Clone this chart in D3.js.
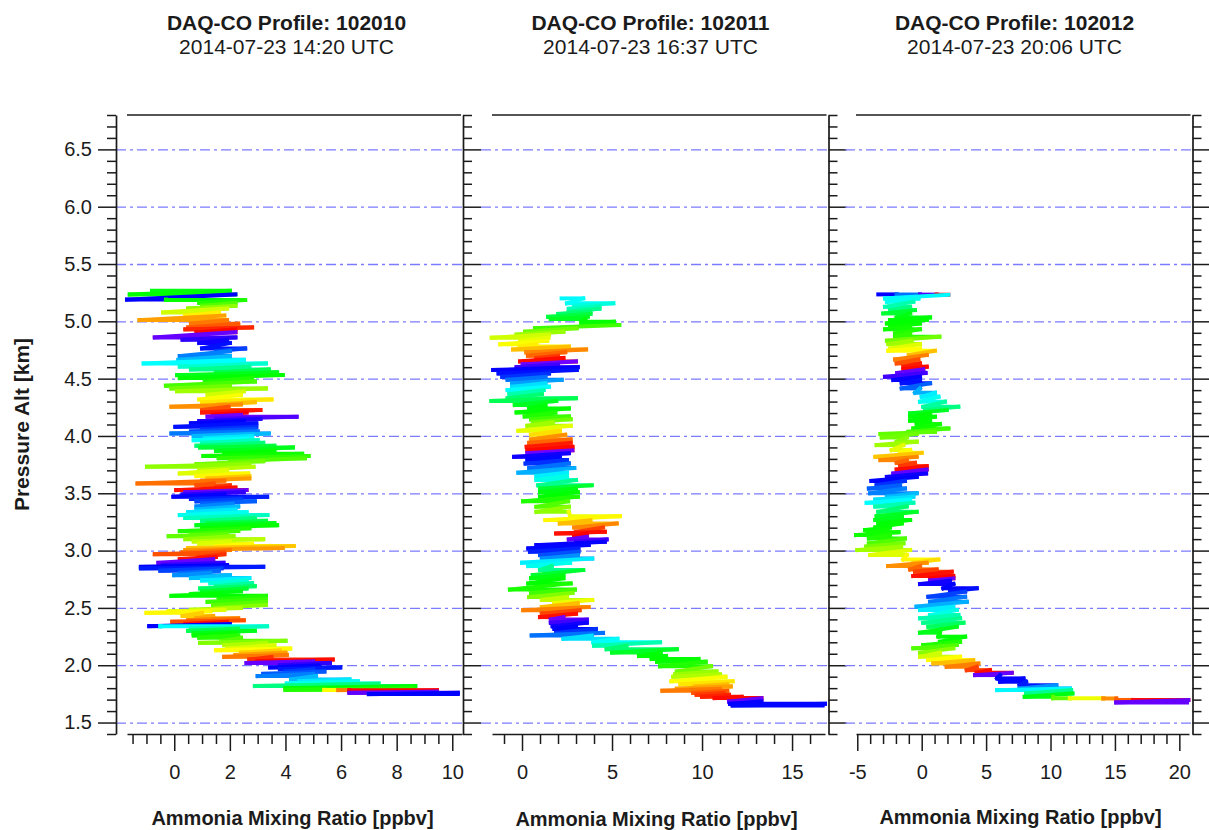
<!DOCTYPE html>
<html>
<head>
<meta charset="utf-8">
<script src="https://cdn.jsdelivr.net/npm/d3@7"></script>
<style>
  html, body { margin: 0; padding: 0; background: #fff; }
  svg { display: block; font-family: "Liberation Sans", Arial, Helvetica, sans-serif; }
</style>
</head>
<body>
<svg id="chart" width="1209" height="830"></svg>
<script>
// Spiral profiles: each row is one swing of the trace
// [pressure altitude km, low NH3 ppbv, high NH3 ppbv, aircraft heading deg]
const profile102010 = [
  [5.267,-0.8,2.0,165],[5.235,-1.6,2.2,160],[5.19,-1.7,-0.3,320],[5.186,-0.3,2.55,158],
  [5.16,0.9,2.2,150],[5.135,1.0,2.2,135],[5.113,0.5,1.9,115],[5.078,-0.4,1.6,95],
  [5.05,0.4,1.8,75],[5.011,-1.25,1.9,50],[4.98,0.6,2.3,38],[4.947,0.5,2.8,28],
  [4.93,0.4,2.2,12],[4.905,0.8,2.2,2],[4.86,-0.7,2.2,352],[4.84,0.3,1.9,335],
  [4.81,0.9,2.0,325],[4.764,1.0,2.55,315],[4.74,1.5,2.0,300],[4.697,0.2,2.0,280],
  [4.665,0.15,2.5,262],[4.633,-1.1,3.3,240],[4.605,0.2,2.7,225],[4.58,0.6,3.4,205],
  [4.555,1.5,3.7,185],[4.531,0.1,3.9,168],[4.505,0.2,2.8,160],[4.475,1.1,2.9,150],
  [4.438,-0.3,2.0,138],[4.415,-0.1,3.3,125],[4.39,0.1,2.5,110],[4.36,1.2,2.4,95],
  [4.319,0.9,3.5,82],[4.295,1.0,2.9,72],[4.275,1.6,2.4,60],[4.255,-0.1,1.95,45],
  [4.226,1.0,3.1,25],[4.205,1.0,2.6,8],[4.185,1.4,2.4,0],[4.168,1.2,4.4,355],
  [4.15,1.5,3.1,345],[4.13,0.9,2.5,330],[4.11,0.6,2.95,320],[4.08,0.04,2.95,315],
  [4.06,1.0,2.9,305],[4.04,0.6,3.0,295],[4.022,-0.1,3.4,282],[4.0,0.7,2.8,262],
  [3.98,1.1,2.8,248],[3.963,0.7,3.0,238],[3.94,1.0,3.2,218],[3.915,0.8,3.6,198],
  [3.9,0.93,4.27,178],[3.87,1.5,3.6,168],[3.845,1.8,4.6,160],[3.825,1.05,4.83,155],
  [3.805,1.6,4.7,145],[3.78,2.0,3.2,135],[3.755,0.8,2.7,125],[3.731,-0.98,2.85,115],
  [3.705,0.9,1.9,103],[3.673,0.2,2.66,90],[3.65,0.8,2.7,78],[3.63,1.2,2.7,62],
  [3.61,1.0,1.8,48],[3.586,-1.32,1.42,35],[3.57,0.8,2.0,25],[3.55,1.5,2.2,15],
  [3.528,0.07,2.6,5],[3.51,0.4,2.5,352],[3.49,0.3,1.8,335],[3.47,-0.03,3.34,322],
  [3.45,0.6,2.4,310],[3.43,0.8,2.9,300],[3.41,1.0,2.1,290],[3.385,0.8,2.3,278],
  [3.36,0.8,2.2,262],[3.335,0.5,2.6,248],[3.31,0.2,3.35,235],[3.285,0.4,2.9,220],
  [3.26,1.0,3.3,200],[3.24,1.2,3.6,182],[3.222,0.8,3.7,168],[3.195,1.0,2.7,158],
  [3.17,0.2,2.3,150],[3.145,0.6,1.9,140],[3.126,-0.2,2.13,130],[3.1,0.4,3.2,115],
  [3.08,0.7,2.0,102],[3.06,0.9,2.8,92],[3.039,1.5,4.3,78],[3.022,0.5,3.9,62],
  [3.005,0.4,2.0,48],[2.985,0.3,1.8,36],[2.969,-0.7,1.8,25],[2.945,0.9,1.5,15],
  [2.925,0.2,1.4,5],[2.893,-0.57,1.77,352],[2.875,-0.4,1.9,335],[2.858,-1.2,3.2,320],
  [2.845,-1.2,1.7,312],[2.825,-0.5,1.6,300],[2.805,0.2,1.3,288],[2.785,0.0,2.0,275],
  [2.76,0.6,2.7,260],[2.74,1.0,2.6,245],[2.715,1.3,2.8,228],[2.69,1.5,2.9,210],
  [2.67,0.93,2.6,192],[2.645,1.0,2.4,175],[2.622,0.6,1.6,165],[2.605,-0.1,3.3,160],
  [2.575,1.6,3.3,150],[2.553,1.2,3.3,142],[2.525,1.4,3.3,132],[2.5,1.5,2.4,118],
  [2.485,0.6,1.8,105],[2.47,-0.2,1.3,90],[2.457,-1.0,1.0,78],[2.43,0.3,1.4,65],
  [2.41,0.8,2.3,52],[2.392,0.5,2.5,38],[2.379,-0.07,1.9,25],[2.36,0.4,2.0,5],
  [2.341,-0.9,-0.5,320],[2.339,-0.5,3.34,240],[2.32,0.6,2.3,220],[2.3,0.5,2.9,185],
  [2.28,0.7,2.2,168],[2.26,0.7,2.3,158],[2.24,0.9,2.4,148],[2.213,1.7,4.0,135],
  [2.195,0.93,3.3,120],[2.175,1.8,3.6,105],[2.146,1.9,4.17,92],[2.13,1.5,3.8,80],
  [2.11,2.4,4.0,65],[2.09,2.2,4.05,50],[2.073,1.8,3.5,38],[2.05,2.7,5.7,15],
  [2.035,3.0,5.0,3],[2.02,2.6,5.6,352],[2.0,3.8,5.2,335],[1.981,3.45,5.97,322],
  [1.965,3.8,5.0,312],[1.945,4.0,5.4,302],[1.925,3.2,5.0,292],[1.905,3.0,5.1,280],
  [1.876,4.2,6.3,262],[1.86,4.5,6.6,248],[1.841,4.05,7.35,235],[1.818,2.9,8.67,200],
  [1.8,4.0,8.6,162],[1.785,4.0,5.4,150],[1.784,5.4,5.9,80],[1.783,5.9,6.3,40],
  [1.782,6.3,9.45,3],[1.77,6.3,9.45,0],[1.759,6.3,10.2,350],[1.748,7.0,10.2,320]
];

const profile102011 = [
  [5.2,2.2,3.4,242],[5.157,2.5,5.07,238],[5.135,2.9,4.3,230],[5.11,2.6,4.3,220],
  [5.085,2.6,3.8,205],[5.065,2.0,3.8,195],[5.04,1.45,3.65,180],[5.02,1.6,3.5,170],
  [4.996,3.3,5.1,162],[4.967,3.3,5.4,158],[4.94,0.72,3.04,140],[4.91,0.17,2.3,125],
  [4.885,-0.3,1.5,112],[4.857,-1.68,1.46,95],[4.83,-0.1,1.4,88],[4.8,-1.2,0.8,82],
  [4.78,-0.13,2.6,75],[4.755,-0.5,3.56,60],[4.73,0.24,2.4,42],[4.7,0.33,2.0,32],
  [4.68,0.8,2.3,18],[4.65,-0.1,3.0,3],[4.625,0.04,2.0,355],[4.6,-0.3,3.1,340],
  [4.575,-1.6,3.04,322],[4.545,-1.3,1.5,315],[4.515,-1.1,1.3,305],[4.49,-0.8,2.2,285],
  [4.46,-0.55,1.3,270],[4.43,-0.55,1.5,250],[4.4,-0.8,1.2,238],[4.365,-0.7,1.1,215],
  [4.33,-0.8,3.0,195],[4.305,-1.7,1.9,185],[4.27,-0.4,1.3,170],[4.24,0.4,2.6,162],
  [4.205,-0.3,1.85,158],[4.17,0.15,2.6,150],[4.145,0.5,2.7,140],[4.12,0.6,1.7,125],
  [4.09,0.3,2.7,110],[4.045,-0.2,2.1,88],[4.01,0.5,2.4,70],[3.97,0.5,2.7,45],
  [3.94,0.4,2.7,32],[3.905,0.26,2.8,8],[3.875,0.3,2.8,2],[3.85,0.3,2.6,355],
  [3.818,-0.44,2.1,325],[3.79,0.3,2.5,318],[3.76,0.2,2.6,305],[3.72,0.4,2.9,285],
  [3.68,-0.2,2.5,265],[3.65,0.8,2.5,245],[3.615,0.8,3.0,232],[3.57,0.9,3.87,205],
  [3.54,1.0,3.0,175],[3.51,1.0,3.1,165],[3.47,1.0,3.1,160],[3.43,0.06,2.56,150],
  [3.382,0.8,2.6,135],[3.338,0.8,2.6,115],[3.3,2.67,5.44,85],[3.266,1.3,3.8,78],
  [3.237,2.1,5.26,60],[3.202,2.9,4.5,42],[3.164,3.0,4.6,20],[3.15,1.9,3.6,5],
  [3.12,2.9,3.6,0],[3.097,2.6,4.7,352],[3.077,3.0,4.6,340],[3.048,0.8,3.7,322],
  [3.019,0.35,3.13,318],[2.99,0.44,3.13,310],[2.961,1.0,3.1,295],[2.93,1.1,3.9,275],
  [2.894,0.0,2.67,245],[2.865,0.35,1.65,235],[2.83,1.0,3.4,205],[2.787,0.6,2.3,175],
  [2.758,0.5,2.3,165],[2.714,0.35,2.7,160],[2.66,-0.67,2.94,152],[2.63,0.5,2.8,140],
  [2.595,0.4,2.5,120],[2.57,1.1,3.9,100],[2.543,1.8,3.1,85],[2.508,1.1,3.7,60],
  [2.48,0.07,3.2,40],[2.45,1.1,3.0,22],[2.42,1.0,2.3,5],[2.398,1.6,3.6,355],
  [2.37,1.6,3.6,340],[2.34,1.7,3.0,325],[2.317,1.8,4.1,320],[2.282,1.9,4.5,305],
  [2.26,0.54,3.87,285],[2.23,2.3,5.3,250],[2.2,3.96,7.67,238],[2.17,4.0,5.8,215],
  [2.14,4.7,8.6,195],[2.11,5.0,7.7,172],[2.08,6.5,8.0,162],[2.055,7.2,9.8,160],
  [2.03,7.5,10.2,158],[1.99,7.67,10.5,150],[1.946,8.6,10.8,125],[1.92,8.5,11.0,112],
  [1.9,8.4,11.3,105],[1.86,8.3,11.7,82],[1.835,8.8,11.4,72],[1.815,9.6,11.6,60],
  [1.795,8.6,11.0,50],[1.777,7.8,11.4,38],[1.758,9.5,11.2,28],[1.742,9.7,11.5,18],
  [1.725,10.0,12.2,10],[1.713,10.7,13.3,3],[1.684,11.5,13.3,352],[1.664,11.55,16.83,322],
  [1.648,11.7,16.7,318]
];

const profile102012 = [
  [5.235,-3.37,-1.94,320],[5.234,-1.94,-0.13,285],[5.233,-0.13,1.16,345],[5.232,1.16,2.07,3],
  [5.2,-2.85,-0.26,242],[5.171,-2.7,-0.65,235],[5.127,-2.85,-0.9,215],[5.098,-2.46,-0.52,200],
  [5.069,-2.98,-0.9,175],[5.034,-1.94,0.65,165],[5.011,-2.46,0.39,162],[4.982,-2.7,-0.13,160],
  [4.953,-2.46,-0.9,158],[4.93,-2.85,-0.13,155],[4.895,-2.07,-0.9,150],[4.866,-2.07,1.37,145],
  [4.831,-2.7,-0.78,125],[4.802,-2.59,-0.13,110],[4.764,-2.46,-0.13,90],[4.744,-2.59,1.03,80],
  [4.706,-1.0,0.4,60],[4.668,-2.07,-0.26,40],[4.633,-1.94,-0.13,25],[4.604,-1.42,0.39,8],
  [4.581,-1.42,0.12,2],[4.55,-1.9,0.3,352],[4.517,-2.85,-0.13,340],[4.488,-2.2,-0.13,322],
  [4.459,-1.55,0.65,315],[4.415,-1.55,-0.13,290],[4.377,-0.52,1.03,265],[4.342,0.0,1.3,245],
  [4.299,-0.13,1.81,235],[4.255,0.12,2.84,210],[4.226,0.26,1.94,200],[4.197,-0.9,0.65,170],
  [4.168,-0.9,1.03,162],[4.133,-0.9,0.65,160],[4.104,-0.39,1.42,158],[4.066,-0.65,2.07,155],
  [4.037,-1.03,1.03,140],[4.017,-3.2,-0.4,130],[3.987,-3.1,-1.16,125],[3.95,-1.94,-0.39,118],
  [3.92,-3.5,-1.43,110],[3.877,-2.33,-0.9,88],[3.853,-1.68,0.0,80],[3.818,-3.6,-0.39,62],
  [3.789,-3.2,-1.16,42],[3.766,-1.94,-0.52,32],[3.737,-1.68,0.39,18],[3.708,-1.94,0.39,3],
  [3.673,-2.2,0.34,350],[3.643,-2.7,-0.39,325],[3.608,-3.9,-1.3,320],[3.571,-3.5,-1.68,305],
  [3.542,-4.1,-1.3,290],[3.5,-4.0,-0.39,280],[3.47,-2.7,-0.65,262],[3.445,-3.6,-0.9,250],
  [3.417,-4.27,-0.65,240],[3.385,-3.6,-1.16,215],[3.338,-3.37,-0.39,195],[3.3,-3.5,-1.55,172],
  [3.266,-3.6,-0.9,168],[3.237,-3.37,-1.55,162],[3.202,-3.6,-2.46,160],[3.179,-4.4,-2.6,158],
  [3.16,-4.2,-1.8,156],[3.135,-5.1,-2.46,155],[3.106,-4.1,-1.3,150],[3.063,-4.1,-1.42,135],
  [3.035,-4.3,-1.6,122],[3.005,-5.0,-0.9,110],[2.961,-4.0,-1.16,90],[2.923,-1.43,1.29,78],
  [2.894,-0.65,0.39,68],[2.865,-2.6,-0.13,45],[2.836,-0.9,1.16,32],[2.816,-0.52,2.33,20],
  [2.778,-0.65,2.45,5],[2.758,0.65,2.46,0],[2.738,0.65,2.2,352],[2.709,-0.13,2.46,325],
  [2.671,1.68,4.27,320],[2.642,2.2,3.37,315],[2.598,0.52,3.37,300],[2.554,0.65,3.5,282],
  [2.511,-0.4,2.45,265],[2.482,-0.13,2.72,245],[2.438,0.65,2.85,232],[2.409,-0.13,2.98,215],
  [2.371,0.12,3.24,205],[2.336,0.52,2.72,190],[2.284,-0.13,1.42,168],[2.249,1.29,3.37,162],
  [2.205,1.42,2.98,160],[2.176,0.12,2.72,150],[2.147,-0.65,2.45,135],[2.109,-0.13,1.42,118],
  [2.074,-0.13,2.98,95],[2.045,0.5,4.0,80],[2.016,0.9,4.4,60],[1.986,1.94,4.27,40],
  [1.957,3.5,5.3,20],[1.934,4.27,6.99,3],[1.914,4.14,6.08,352],[1.885,5.85,7.9,322],
  [1.856,6.08,8.1,318],[1.826,7.6,10.45,312],[1.797,7.6,11.5,275],[1.783,5.85,11.6,242],
  [1.754,8.1,11.7,205],[1.725,8.0,10.2,165],[1.712,10.2,11.5,130],[1.711,11.5,14.1,85],
  [1.71,14.1,15.1,45],[1.697,15.1,16.4,30],[1.696,16.4,20.7,3],[1.675,15.1,20.6,352]
];

const profileIds = ["102010", "102011", "102012"];
const profileTimes = ["2014-07-23 14:20 UTC", "2014-07-23 16:37 UTC", "2014-07-23 20:06 UTC"];
const altMajorTicks = [1.5, 2.0, 2.5, 3.0, 3.5, 4.0, 4.5, 5.0, 5.5, 6.0, 6.5];
const altMinorTicks = [1.4,1.6,1.7,1.8,1.9,2.1,2.2,2.3,2.4,2.6,2.7,2.8,2.9,3.1,3.2,3.3,3.4,
  3.6,3.7,3.8,3.9,4.1,4.2,4.3,4.4,4.6,4.7,4.8,4.9,5.1,5.2,5.3,5.4,5.6,5.7,5.8,5.9,6.1,6.2,6.3,6.4,6.6,6.7,6.8];
const nh3Major102010 = [0, 2, 4, 6, 8, 10];
const nh3Minor102010 = [-1.5,-1,-0.5,0.5,1,1.5,2.5,3,3.5,4.5,5,5.5,6.5,7,7.5,8.5,9,9.5];
const nh3Major102011 = [0, 5, 10, 15];
const nh3Minor102011 = [-1,1,2,3,4,6,7,8,9,11,12,13,14,16];
const nh3Major102012 = [-5, 0, 5, 10, 15, 20];
const nh3Minor102012 = [-4,-3,-2,-1,1,2,3,4,6,7,8,9,11,12,13,14,16,17,18,19];

// ---- layout ----
const svg = d3.select("#chart");
const TOP = 115, BOTTOM = 734;
const INK = "#1b1b1b";
const y = d3.scaleLinear().domain([1.4, 6.8]).range([BOTTOM, TOP]);

const panels = [
  { id: profileIds[0], time: profileTimes[0], rows: profile102010, domain: [-1.7, 10.35],
    left: 127, right: 462, frame: 463, major: nh3Major102010, minor: nh3Minor102010, titleY: 824.5 },
  { id: profileIds[1], time: profileTimes[1], rows: profile102011, domain: [-1.667, 16.83],
    left: 492, right: 825, frame: 828.5, major: nh3Major102011, minor: nh3Minor102011, titleY: 825.5 },
  { id: profileIds[2], time: profileTimes[2], rows: profile102012, domain: [-5.1, 20.75],
    left: 856, right: 1189, frame: 1192.5, major: nh3Major102012, minor: nh3Minor102012, titleY: 824 }
];

// heading -> rainbow (red at 0 through yellow, green, cyan, blue to violet at 360)
const hueOf = d3.scaleLinear().domain([0, 360]).range([0, 270]).clamp(true);
const colorOf = h => d3.hsl(hueOf(h), 1, 0.5).toString();

function styleAxis(g) {
  g.selectAll(".domain").attr("stroke", INK).attr("stroke-width", 1.7);
  g.selectAll(".tick line").attr("stroke", INK).attr("stroke-width", 1.5);
}

panels.forEach((p, i) => {
  const x = d3.scaleLinear().domain(p.domain).range([p.left, p.right]);
  const cx = (p.left + p.right) / 2;
  const g = svg.append("g");

  // dash-dot altitude grid
  g.append("g").selectAll("line").data(altMajorTicks).join("line")
    .attr("x1", p.left - 11).attr("x2", p.frame)
    .attr("y1", d => y(d) + 0.5).attr("y2", d => y(d) + 0.5)
    .attr("stroke", "#7b7bff").attr("stroke-width", 1.3)
    .attr("stroke-dasharray", "10,4,3,4");

  // top frame line
  g.append("line").attr("x1", p.left).attr("x2", p.frame - 2)
    .attr("y1", TOP).attr("y2", TOP).attr("stroke", INK).attr("stroke-width", 1.7);

  // profile trace: each swing drawn low -> high, consecutive swings joined
  const pts = [];
  p.rows.forEach(r => {
    pts.push({ alt: r[0], v: r[1], h: r[3] });
    pts.push({ alt: r[0], v: r[2], h: r[3] });
  });
  const segs = d3.pairs(pts);
  g.append("g").selectAll("line").data(segs).join("line")
    .attr("x1", d => x(d[0].v)).attr("y1", d => y(d[0].alt))
    .attr("x2", d => x(d[1].v)).attr("y2", d => y(d[1].alt))
    .attr("stroke", d => colorOf(d[1].h))
    .attr("stroke-width", 4)
    .attr("stroke-linecap", "square");

  // bottom axis: minor then major ticks
  const bx = g.append("g").attr("transform", `translate(0,${BOTTOM})`);
  bx.call(d3.axisBottom(x).tickValues(p.minor).tickSize(10).tickSizeOuter(0).tickFormat(""));
  const bxMajor = g.append("g").attr("transform", `translate(0,${BOTTOM})`);
  bxMajor.call(d3.axisBottom(x).tickValues(p.major).tickSize(17).tickSizeOuter(0)
    .tickPadding(14).tickFormat(d => String(d)));
  bxMajor.select(".domain").remove();
  styleAxis(bx); styleAxis(bxMajor);
  bxMajor.selectAll("text").attr("font-size", 20).attr("fill", INK)
    .attr("font-family", "Liberation Sans, Arial, sans-serif");

  // right-hand altitude axis, ticks pointing outward to the right
  const ra = g.append("g").attr("transform", `translate(${p.frame},0)`);
  ra.call(d3.axisRight(y).tickValues(altMinorTicks).tickSize(9).tickSizeOuter(0).tickFormat(""));
  const raMajor = g.append("g").attr("transform", `translate(${p.frame},0)`);
  raMajor.call(d3.axisRight(y).tickValues(altMajorTicks).tickSize(18).tickSizeOuter(0).tickFormat(""));
  raMajor.select(".domain").remove();
  styleAxis(ra); styleAxis(raMajor);

  // panel title
  g.append("text").attr("x", cx - 8).attr("y", 29.5).attr("text-anchor", "middle")
    .attr("font-size", 21).attr("font-weight", "bold").attr("fill", INK)
    .text(`DAQ-CO Profile: ${p.id}`);
  g.append("text").attr("x", cx - 8).attr("y", 54).attr("text-anchor", "middle")
    .attr("font-size", 21).attr("fill", INK).text(p.time);

  // x-axis title
  g.append("text").attr("x", cx - 2).attr("y", p.titleY).attr("text-anchor", "middle")
    .attr("font-size", 20).attr("font-weight", "bold").attr("fill", INK)
    .text("Ammonia Mixing Ratio [ppbv]");

  // left altitude axis with labels on the first panel only
  if (i === 0) {
    const la = g.append("g").attr("transform", `translate(${p.left - 11},0)`);
    la.call(d3.axisLeft(y).tickValues(altMinorTicks).tickSize(9).tickSizeOuter(0).tickFormat(""));
    const laMajor = g.append("g").attr("transform", `translate(${p.left - 11},0)`);
    laMajor.call(d3.axisLeft(y).tickValues(altMajorTicks).tickSize(18).tickSizeOuter(0)
      .tickPadding(6).tickFormat(d3.format(".1f")));
    laMajor.select(".domain").remove();
    styleAxis(la); styleAxis(laMajor);
    laMajor.selectAll("text").attr("font-size", 20).attr("fill", INK)
      .attr("font-family", "Liberation Sans, Arial, sans-serif");

    g.append("text")
      .attr("transform", `translate(29,${(TOP + BOTTOM) / 2}) rotate(-90)`)
      .attr("text-anchor", "middle").attr("font-size", 21).attr("font-weight", "bold")
      .attr("fill", INK).text("Pressure Alt [km]");
  }
});
</script>
</body>
</html>
